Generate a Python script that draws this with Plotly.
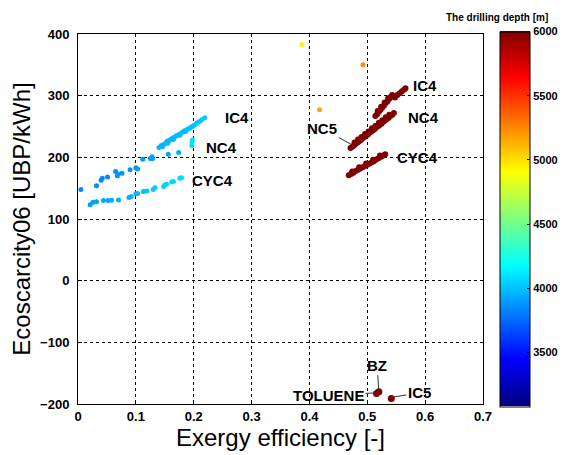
import plotly.graph_objects as go

# ---------------- data ----------------
# left cluster (shallower wells)
left_upper_x = [0.005, 0.032, 0.040, 0.042, 0.051, 0.065, 0.069, 0.068, 0.076, 0.090, 0.100, 0.103,
                0.112, 0.125, 0.129, 0.128, 0.156, 0.174]
left_upper_y = [148, 154, 163, 166, 168, 177, 173, 170, 174, 180, 183, 181, 197, 198, 198, 201, 205, 208]
left_upper_d = [3840, 3840, 3850, 3850, 3850, 3860, 3860, 3860, 3870, 3870, 3880, 3880,
                3890, 3890, 3900, 3900, 3920, 3940]

left_ic4_x = [0.140, 0.144, 0.148, 0.151, 0.154, 0.157, 0.160, 0.163, 0.166, 0.169, 0.172, 0.175,
              0.178, 0.181, 0.184, 0.187, 0.190, 0.193, 0.196, 0.199, 0.202, 0.206, 0.210, 0.214, 0.219,
              0.146, 0.155, 0.165, 0.176, 0.186]
left_ic4_y = [216, 219, 221, 223, 226, 227, 229, 231, 232, 234, 236, 237, 239, 241, 243, 244, 246, 247,
              249, 251, 253, 256, 258, 261, 264, 217, 223, 229, 236, 242]
left_ic4_d = [3960, 3960, 3965, 3965, 3970, 3970, 3975, 3975, 3980, 3980, 3985, 3985, 3990, 3990,
              3995, 3995, 4000, 4000, 4005, 4005, 4010, 4010, 4015, 4015, 4020,
              3965, 3970, 3980, 3985, 3995]

left_nc4_x = [0.197, 0.197, 0.198]
left_nc4_y = [219, 224, 228]
left_nc4_d = [4080, 4090, 4100]

left_cyc4_x = [0.021, 0.026, 0.032, 0.044, 0.052, 0.058, 0.070, 0.088, 0.092, 0.100, 0.103, 0.113,
               0.119, 0.130, 0.133, 0.148, 0.150, 0.153, 0.162, 0.165, 0.176, 0.179]
left_cyc4_y = [123, 127, 128, 130, 130, 130.5, 131, 135, 136.5, 141, 141.5, 144.6, 145.6, 148, 150.5,
               152.7, 155, 156.5, 160, 161, 166, 167]
left_cyc4_d = [3900, 3900, 3910, 3920, 3930, 3940, 3950, 3960, 3970, 3980, 3990, 4000,
               4010, 4020, 4030, 4040, 4050, 4050, 4060, 4060, 4080, 4080]

# isolated medium-depth points
mid_x = [0.387, 0.4925, 0.4175]
mid_y = [383, 350, 277]
mid_d = [4950, 5230, 5150]

# right cluster (deep wells, 6000 m)
right_ic4_x = [0.514, 0.517, 0.520, 0.523, 0.526, 0.529, 0.532, 0.535, 0.538, 0.541, 0.543,
               0.518, 0.524, 0.530, 0.536,
               0.548, 0.552, 0.556, 0.560, 0.564, 0.566]
right_ic4_y = [267, 270, 274, 277, 281, 284, 288, 291, 295, 298, 301,
               275, 282, 289, 296,
               297, 301, 304, 307, 310, 312]

right_nc4_x = [0.471, 0.474, 0.477, 0.480, 0.483, 0.486, 0.489, 0.492, 0.495, 0.498, 0.501, 0.504,
               0.507, 0.510, 0.513, 0.516, 0.519, 0.522, 0.525, 0.528, 0.531, 0.534, 0.537, 0.540,
               0.543, 0.546,
               0.478, 0.484, 0.490, 0.496, 0.502, 0.508, 0.514, 0.520, 0.526, 0.532, 0.538]
right_nc4_y = [215, 217, 219, 222, 224, 226, 228, 231, 233, 235, 237, 240, 242, 244, 246, 249, 251,
               253, 255, 258, 260, 262, 264, 267, 269, 272,
               224, 229, 233, 238, 242, 247, 251, 256, 260, 265, 269]

right_cyc4_x = [0.468, 0.472, 0.476, 0.480, 0.484, 0.488, 0.492, 0.496, 0.500, 0.504, 0.508, 0.512,
                0.516, 0.520, 0.524, 0.528, 0.531,
                0.474, 0.486, 0.498, 0.510, 0.522]
right_cyc4_y = [171, 173, 175, 178, 180, 182, 184, 186, 188, 190, 192, 194, 197, 199, 201, 203, 205,
                177, 184, 190, 196, 203]

bottom_x = [0.520, 0.516, 0.5415]
bottom_y = [-180, -183, -191]

deep_depth = 6000

# ---------------- colours ----------------
jet = [[0.0, "rgb(0,0,128)"], [0.125, "rgb(0,0,255)"], [0.375, "rgb(0,255,255)"],
       [0.625, "rgb(255,255,0)"], [0.875, "rgb(255,0,0)"], [1.0, "rgb(128,0,0)"]]
cmin, cmax = 3080, 6000

fig = go.Figure()

def add(xs, ys, ds, size=5, showscale=False):
    fig.add_trace(go.Scatter(
        x=xs, y=ys, mode="markers",
        marker=dict(size=size, color=ds, colorscale=jet, cmin=cmin, cmax=cmax,
                    showscale=showscale, line=dict(width=0),
                    colorbar=dict(
                        x=1.042, xanchor="left", xref="paper", xpad=0, ypad=0,
                        y=0.5, yanchor="middle",
                        lenmode="pixels", len=375, thickness=30,
                        outlinecolor="black", outlinewidth=1,
                        tickvals=[3500, 4000, 4500, 5000, 5500, 6000],
                        ticks="inside", ticklen=3, tickcolor="black",
                        tickfont=dict(family="Liberation Sans, Arial", size=11, color="black", weight="bold"),
                    ) if showscale else None),
        showlegend=False, hoverinfo="skip"))

add(left_upper_x, left_upper_y, left_upper_d)
add(left_ic4_x, left_ic4_y, left_ic4_d)
add(left_nc4_x, left_nc4_y, left_nc4_d)
add(left_cyc4_x, left_cyc4_y, left_cyc4_d)
add(mid_x, mid_y, mid_d)
add(right_ic4_x, right_ic4_y, [deep_depth] * len(right_ic4_x), size=6)
add(right_nc4_x, right_nc4_y, [deep_depth] * len(right_nc4_x), size=6)
add(right_cyc4_x, right_cyc4_y, [deep_depth] * len(right_cyc4_x), size=6)
add(bottom_x, bottom_y, [deep_depth] * len(bottom_x), size=7, showscale=True)

lab_font = dict(family="Liberation Sans, Arial", size=15, color="black", weight="bold")

plain_labels = [
    (0.275, 264, "IC4"), (0.248, 216, "NC4"), (0.232, 163, "CYC4"),
    (0.600, 317, "IC4"), (0.597, 264, "NC4"), (0.587, 200, "CYC4"),
]
for x, y, t in plain_labels:
    fig.add_annotation(x=x, y=y, text=t, showarrow=False, font=lab_font)

arrow_labels = [
    # (point x, point y, text x, text y, text)
    (0.476, 219, 0.422, 247, "NC5"),
    (0.520, -180, 0.517, -137, "BZ"),
    (0.514, -182, 0.433, -186, "TOLUENE"),
    (0.536, -190, 0.590, -182, "IC5"),
]
for px, py, tx, ty, t in arrow_labels:
    fig.add_annotation(x=px, y=py, ax=tx, ay=ty, axref="x", ayref="y", text=t,
                       showarrow=True, arrowhead=0, arrowwidth=1, arrowcolor="#333",
                       font=lab_font)

# plot area spans 405 x 370 px
fig.add_annotation(x=(497 - 78) / 405, y=(404 - 17) / 370, xref="paper", yref="paper",
                   xanchor="center", yanchor="middle",
                   text="The drilling depth [m]", showarrow=False,
                   font=dict(family="Liberation Sans, Arial", size=10, color="black", weight="bold"))

tick_font = dict(family="Liberation Sans, Arial", size=13, color="black", weight="bold")
axis_common = dict(showline=True, linecolor="black", linewidth=1, mirror=True,
                   showgrid=True, gridcolor="black", griddash="3px,3px", gridwidth=1,
                   ticks="inside", ticklen=4, tickcolor="black", zeroline=False,
                   tickfont=tick_font)

fig.update_xaxes(range=[0, 0.7], tickvals=[0, 0.1, 0.2, 0.3, 0.4, 0.5, 0.6, 0.7],
                 ticktext=["0", "0.1", "0.2", "0.3", "0.4", "0.5", "0.6", "0.7"],
                 title=dict(text="Exergy efficiency [-]", standoff=4,
                            font=dict(family="Liberation Sans, Arial", size=24, color="black")),
                 **axis_common)
fig.update_yaxes(range=[-200, 400], tickvals=[-200, -100, 0, 100, 200, 300, 400],
                 ticklabelstandoff=5,
                 title=dict(text="Ecoscarcity06 [UBP/kWh]", standoff=2,
                            font=dict(family="Liberation Sans, Arial", size=24, color="black")),
                 **axis_common)

# the page adds an 8 px body margin, so the figure is 8 px smaller than the window
fig.update_layout(width=560, height=447,
                  margin=dict(l=70, r=85, t=26, b=51, autoexpand=False),
                  plot_bgcolor="white", paper_bgcolor="white")

fig.write_html("out.html")
